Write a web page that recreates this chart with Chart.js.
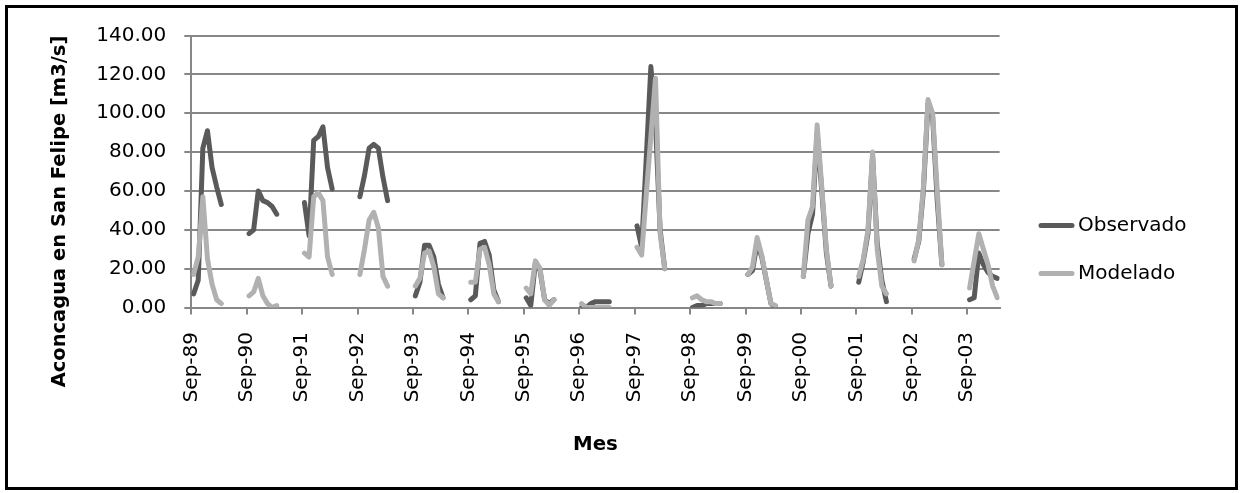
<!DOCTYPE html>
<html><head><meta charset="utf-8">
<script src="https://cdn.jsdelivr.net/npm/chart.js@4.4.1/dist/chart.umd.min.js"></script>
<style>html,body{margin:0;padding:0;background:#fff}canvas{display:block}</style>
</head><body>
<canvas id="c" width="1243" height="493"></canvas>
<script>
// ---- data ----
const tickLabels = ['Sep-89','Sep-90','Sep-91','Sep-92','Sep-93','Sep-94','Sep-95','Sep-96','Sep-97','Sep-98','Sep-99','Sep-00','Sep-01','Sep-02','Sep-03'];
const seasonMonths = ['Sep','Oct','Nov','Dec','Jan','Feb','Mar'];
const totalMonths = 175; // Sep-89 .. Mar-04
const yTitle = 'Aconcagua en San Felipe [m3/s]';
const xTitle = 'Mes';
const seriesNames = ['Observado', 'Modelado'];

// one row per season (Sep..Mar), seasons 1989/90 .. 2003/04
const observado = [
  [7, 14, 82, 91, 72, 62, 53],
  [38, 40, 60, 55, 54, 52, 48],
  [54, 37, 86, 88, 93, 72, 61],
  [57, 68, 82, 84, 82, 67, 55],
  [6, 13, 32, 32, 26, 12, 5],
  [4, 6, 33, 34, 27, 9, 3],
  [5, 1, 23, 19, 4, 2, 4],
  [0, 0, 2, 3, 3, 3, 3],
  [42, 31, 77, 124, 95, 40, 20],
  [0, 1, 1, 2, 2, 2, 2],
  [17, 19, 33, 26, 14, 2, 0],
  [16, 38, 48, 90, 60, 28, 11],
  [13, 24, 38, 78, 33, 14, 3],
  [25, 34, 60, 105, 98, 55, 22],
  [4, 5, 28, 22, 18, 16, 15]
];
const modelado = [
  [17, 26, 57, 25, 12, 4, 2],
  [6, 8, 15, 6, 2, 0, 1],
  [28, 26, 57, 59, 55, 26, 17],
  [17, 30, 45, 49, 41, 16, 11],
  [11, 15, 28, 29, 21, 7, 5],
  [13, 13, 30, 31, 22, 7, 3],
  [10, 7, 24, 20, 4, 1, 4],
  [2, 0, 0, 0, 0, 0, 0],
  [31, 27, 58, 88, 118, 38, 20],
  [5, 6, 4, 3, 3, 2, 2],
  [17, 21, 36, 27, 14, 2, 1],
  [16, 45, 52, 94, 62, 30, 11],
  [16, 25, 40, 80, 30, 11, 7],
  [24, 35, 62, 107, 100, 60, 22],
  [10, 24, 38, 30, 22, 11, 5]
];

const colors = ['#5a5a5a', '#b1b1b1'];
const gridColor = '#878787';

function buildSeries(rows) {
  const pts = [];
  for (let m = 0; m < totalMonths; m++) {
    const yr = Math.floor(m / 12), k = m % 12;
    const v = (rows[yr] && k < rows[yr].length) ? rows[yr][k] : null;
    pts.push({ x: m + 0.5, y: v });
  }
  return pts;
}

Chart.defaults.font.family = '"DejaVu Sans"';
Chart.defaults.font.size = 20;
Chart.defaults.color = '#000';

const decor = {
  id: 'decor',
  afterDraw(chart) {
    const ctx = chart.ctx;
    ctx.save();
    ctx.fillStyle = '#000';
    ctx.font = 'bold 19.5px "DejaVu Sans"';
    ctx.textAlign = 'center';
    ctx.textBaseline = 'middle';
    ctx.translate(60, 211.5);
    ctx.rotate(-Math.PI / 2);
    ctx.fillText(yTitle, 0, 0);
    ctx.restore();

    // legend
    ctx.save();
    const ys = [225.5, 273.5];
    seriesNames.forEach((n, i) => {
      ctx.strokeStyle = colors[i];
      ctx.lineWidth = 5;
      ctx.lineCap = 'round';
      ctx.beginPath();
      ctx.moveTo(1041, ys[i]);
      ctx.lineTo(1072, ys[i]);
      ctx.stroke();
      ctx.fillStyle = '#000';
      ctx.font = '20px "DejaVu Sans"';
      ctx.textAlign = 'left';
      ctx.textBaseline = 'middle';
      ctx.fillText(n, 1078, ys[i]);
    });
    ctx.restore();

    // outer border
    ctx.save();
    ctx.strokeStyle = '#000';
    ctx.lineWidth = 3;
    ctx.strokeRect(6.5, 6.5, 1230, 482);
    ctx.restore();
  }
};

new Chart(document.getElementById('c'), {
  type: 'line',
  data: {
    datasets: [
      { label: seriesNames[0], data: buildSeries(observado), borderColor: colors[0], order: 1 },
      { label: seriesNames[1], data: buildSeries(modelado), borderColor: colors[1], order: 0 }
    ]
  },
  options: {
    responsive: false,
    animation: false,
    parsing: true,
    spanGaps: false,
    elements: {
      line: { borderWidth: 5, tension: 0, borderCapStyle: 'round', borderJoinStyle: 'round', fill: false },
      point: { radius: 0, hoverRadius: 0 }
    },
    layout: { padding: { left: 0, right: 243.4, top: 35.5, bottom: 0 } },
    plugins: { legend: { display: false }, tooltip: { enabled: false } },
    scales: {
      x: {
        type: 'linear',
        min: 0,
        max: totalMonths,
        afterBuildTicks: (axis) => { axis.ticks = tickLabels.map((_, i) => ({ value: i * 12 })); },
        afterFit: (s) => { s.height = 493 - 307.5; s.paddingLeft = 0; s.paddingRight = 0; },
        ticks: {
          autoSkip: false,
          minRotation: 90,
          maxRotation: 90,
          padding: 17.5,
          font: { size: 20 },
          callback: (v) => tickLabels[Math.round(v / 12)]
        },
        grid: { drawOnChartArea: false, drawTicks: true, tickLength: 7, color: gridColor, lineWidth: 2 },
        border: { display: true, color: gridColor, width: 2 },
        title: { display: true, text: xTitle, font: { size: 19.8, weight: 'bold', lineHeight: 1.2 }, padding: { top: 0, bottom: 36 } }
      },
      y: {
        min: 0,
        max: 140,
        afterFit: (s) => { s.width = 191.3; s.paddingTop = 0; s.paddingBottom = 0; },
        ticks: { stepSize: 20, padding: 18, font: { size: 20 }, callback: (v) => Number(v).toFixed(2) },
        grid: { color: gridColor, lineWidth: 2, tickLength: 7, drawTicks: true },
        border: { display: true, color: gridColor, width: 2 }
      }
    }
  },
  plugins: [decor]
});
</script>
</body></html>
